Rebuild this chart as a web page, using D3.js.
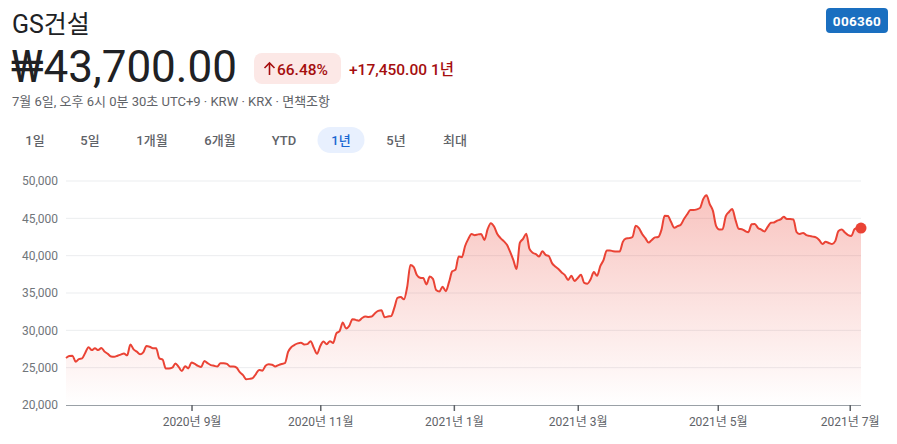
<!DOCTYPE html>
<html><head><meta charset="utf-8">
<script src="https://cdn.jsdelivr.net/npm/d3@7"></script>
<style>
html,body{margin:0;padding:0;background:#fff;}
svg{display:block;font-family:Roboto,"Noto Sans CJK KR",sans-serif;}
</style></head>
<body>
<svg id="c" width="897" height="444"></svg>
<script>
// ---- data ----
const title = "GS건설";
const ticker = "006360";
const priceText = "₩43,700.00";
const changePct = "66.48%";
const changeAbs = "+17,450.00 1년";
const subtitle = "7월 6일, 오후 6시 0분 30초 UTC+9 · KRW · KRX · 면책조항";
const ranges = ["1일","5일","1개월","6개월","YTD","1년","5년","최대"];
const selectedRange = "1년";
const yTicks = [20000,25000,30000,35000,40000,45000,50000];
// month ticks, positioned on trading-day index
const xTickIdx = [39, 79, 120.5, 159, 202.5, 243.5];
const xTickLabels = ["2020년 9월","2020년 11월","2021년 1월","2021년 3월","2021년 5월","2021년 7월"];
// daily closes (trading days, 2020-07-06 .. 2021-07-06)
const prices = [
26300,26550,26600,25800,26150,26250,27000,27750,27350,27600,
27350,27650,27150,26850,26500,26450,26600,26750,26900,26650,
28100,27450,27150,26800,27050,27900,27800,27600,27600,26250,
26100,24900,24900,25000,25550,25100,24550,25200,24900,25700,
25500,25250,25100,25900,25600,25350,25250,25150,25600,25600,
25500,25150,25150,25000,24400,24000,23450,23500,23600,24150,
24700,24600,25250,25450,25400,25150,25350,25500,25600,27100,
27750,28050,28250,28350,28100,28150,28550,27650,26850,27900,
28500,28150,28550,28300,29600,29900,31050,30250,30600,31500,
31400,31300,31650,31850,31800,31850,32300,32600,32700,31750,
31850,31900,33000,34350,34450,34150,35800,38750,38500,37400,
37050,37000,36150,37200,36900,35400,35200,35850,35250,36450,
37900,38100,39900,39800,41300,42250,42900,42750,42850,42900,
42100,43550,44350,43900,42900,42350,41950,41450,40500,39400,
38200,41700,42250,42950,40900,40400,40200,39900,40600,40100,
39950,39000,38550,38200,37750,37400,36750,37300,36600,37000,
37450,36350,36250,36850,37800,37300,38600,39400,40700,40700,
40600,40550,40550,41850,42300,42350,42500,44000,43700,42900,
42350,41750,42100,42450,42500,43450,45350,45300,44500,43750,
43950,44150,44900,45550,46100,46100,46200,46400,47600,48100,
46900,46000,43950,43500,43550,45300,45850,46250,44800,43600,
43550,43300,43150,44200,44250,43700,43500,43250,43850,44400,
44450,44700,44850,45200,44900,44900,44850,43150,42900,43050,
42750,42650,42550,42450,42100,41550,41850,41700,41550,41950,
43300,43500,43100,42750,42650,43550,43700,43700
];

// ---- layout ----
const svg = d3.select("#c");
const M = {left:66, right:861, top:181, bottom:405};
const red = "#ea4335";

// header
svg.append("text").attr("x",12).attr("y",33).attr("font-size",25).attr("fill","#202124").text(title);
svg.append("rect").attr("x",826).attr("y",8).attr("width",62).attr("height",25).attr("rx",4).attr("fill","#1a6fc0");
svg.append("text").attr("x",857).attr("y",25.5).attr("text-anchor","middle").attr("font-size",13.5).attr("font-weight",700).attr("fill","#fff").attr("letter-spacing",0.3).text(ticker);
svg.append("text").attr("x",11).attr("y",81.5).attr("font-size",44).attr("fill","#202124").text(priceText);
svg.append("rect").attr("x",254).attr("y",53).attr("width",87).attr("height",31).attr("rx",8).attr("fill","#fce8e6");
// up arrow
const ag = svg.append("g").attr("stroke","#a50e0e").attr("stroke-width",1.6).attr("fill","none");
ag.append("line").attr("x1",269.5).attr("y1",63).attr("x2",269.5).attr("y2",75);
ag.append("polyline").attr("points","264.5,68 269.5,63 274.5,68");
svg.append("text").attr("x",277).attr("y",74.5).attr("font-size",15.5).attr("font-weight",500).attr("fill","#a50e0e").text(changePct);
svg.append("text").attr("x",349).attr("y",74.5).attr("font-size",15.5).attr("font-weight",500).attr("fill","#a50e0e").text(changeAbs);
svg.append("text").attr("x",12).attr("y",106).attr("font-size",13).attr("fill","#5f6368").text(subtitle);

// range tabs
const tabX = [35, 90, 152, 220, 284, 341, 396, 455];
ranges.forEach((r,i)=>{
  if (r===selectedRange){
    svg.append("rect").attr("x",tabX[i]-23.5).attr("y",127).attr("width",47).attr("height",26).attr("rx",13).attr("fill","#e8f0fe");
  }
  svg.append("text").attr("x",tabX[i]).attr("y",144.5).attr("text-anchor","middle")
    .attr("font-size",13).attr("font-weight",500)
    .attr("fill", r===selectedRange ? "#1967d2" : "#5f6368").text(r);
});

// scales
const x = d3.scaleLinear().domain([0, prices.length-1]).range([M.left, M.right]);
const y = d3.scaleLinear().domain([20000,50000]).range([M.bottom, M.top]);

// gridlines
svg.append("g").selectAll("line").data(yTicks.filter(d=>d>20000)).join("line")
  .attr("x1",M.left).attr("x2",M.right).attr("y1",d=>y(d)).attr("y2",d=>y(d))
  .attr("stroke","#ebedef").attr("stroke-width",1);

// y axis labels
const yAxis = d3.axisLeft(y).tickValues(yTicks).tickFormat(d3.format(",")).tickSize(0).tickPadding(8);
const yg = svg.append("g").attr("transform",`translate(${M.left},0)`).call(yAxis);
yg.select(".domain").remove();
yg.selectAll("text").attr("font-size",12).attr("fill","#70757a").attr("font-family","Roboto,sans-serif");

// area gradient
const defs = svg.append("defs");
const gr = defs.append("linearGradient").attr("id","ag").attr("gradientUnits","userSpaceOnUse")
  .attr("x1",0).attr("x2",0).attr("y1",M.top+10).attr("y2",M.bottom);
gr.append("stop").attr("offset","0%").attr("stop-color",red).attr("stop-opacity",0.32);
gr.append("stop").attr("offset","100%").attr("stop-color",red).attr("stop-opacity",0);

const area = d3.area().x((d,i)=>x(i)).y0(M.bottom).y1(d=>y(d)).curve(d3.curveMonotoneX);
const line = d3.line().x((d,i)=>x(i)).y(d=>y(d)).curve(d3.curveMonotoneX);
svg.append("path").datum(prices).attr("d",area).attr("fill","url(#ag)");
svg.append("path").datum(prices).attr("d",line).attr("fill","none").attr("stroke",red).attr("stroke-width",2).attr("stroke-linejoin","round");

// x axis
const xAxis = d3.axisBottom(x).tickValues(xTickIdx).tickFormat((d,i)=>xTickLabels[i]).tickSize(6).tickPadding(6);
const xg = svg.append("g").attr("transform",`translate(0,${M.bottom})`).call(xAxis);
xg.select(".domain").attr("stroke","#9aa0a6").attr("d",`M${M.left},0.5H${M.right}`);
xg.selectAll(".tick line").attr("stroke","#5f6368").attr("stroke-width",1.5);
xg.selectAll("text").attr("font-size",12).attr("fill","#5f6368").attr("font-family","Roboto,'Noto Sans CJK KR',sans-serif");

// end dot
const last = prices.length-1;
svg.append("circle").attr("cx",x(last)).attr("cy",y(prices[last])).attr("r",5.5).attr("fill",red);
</script>
</body></html>
